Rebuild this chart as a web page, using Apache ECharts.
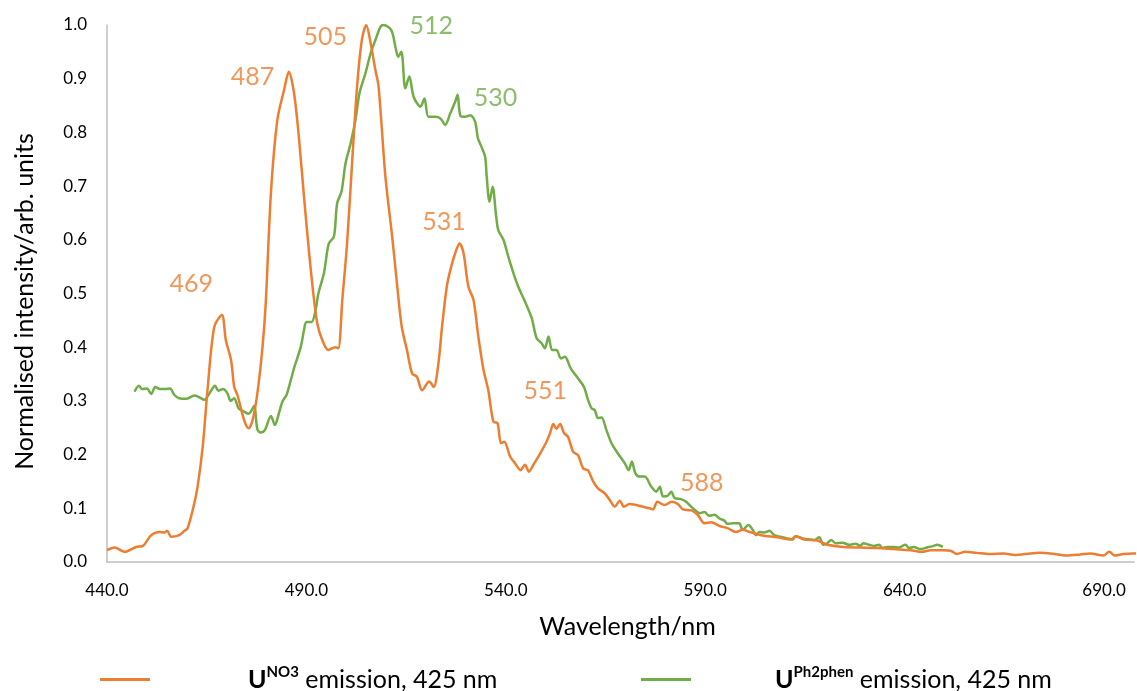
<!DOCTYPE html>
<html>
<head>
<meta charset="utf-8">
<script src="https://cdn.jsdelivr.net/npm/echarts@6/dist/echarts.min.js"></script>
<style>
  html, body { margin: 0; padding: 0; background: #ffffff; }
  #chart { width: 1137px; height: 691px; }
</style>
</head>
<body>
<div id="chart"></div>
<script>
// ---------------- DATA ----------------
const seriesNames = ['UNO3 emission, 425 nm', 'UPh2phen emission, 425 nm'];

// [wavelength (nm), normalised intensity]
const emissionNO3 = [
  [440.0,0.022],[441.9,0.027],[444.4,0.019],[447.3,0.028],[449.0,0.030],[451.1,0.050],[453.1,0.056],[454.4,0.055],[455.1,0.058],[456.1,0.047],
  [458.1,0.050],[459.4,0.058],[460.2,0.063],[461.5,0.097],[462.7,0.140],[464.0,0.215],[465.2,0.320],[466.9,0.438],[468.8,0.460],[469.8,0.413],
  [471.1,0.376],[471.9,0.326],[472.7,0.311],[474.4,0.264],[475.5,0.249],[476.5,0.264],[477.7,0.314],[479.0,0.401],[479.8,0.482],[481.1,0.687],
  [482.7,0.823],[484.4,0.879],[485.6,0.913],[486.9,0.873],[488.1,0.792],[489.4,0.680],[491.1,0.544],[492.7,0.445],[494.0,0.413],[495.5,0.395],
  [497.3,0.400],[498.0,0.398],[499.0,0.488],[500.2,0.594],[501.5,0.749],[502.7,0.885],[503.9,0.972],[505.0,1.000],[506.1,0.966],[507.3,0.916],
  [508.1,0.885],[509.8,0.718],[511.5,0.606],[512.7,0.519],[513.9,0.438],[515.2,0.395],[516.5,0.351],[517.7,0.345],[519.0,0.320],[520.8,0.336],
  [521.9,0.326],[523.1,0.370],[524.0,0.438],[525.2,0.513],[526.1,0.544],[527.3,0.575],[528.4,0.593],[529.4,0.575],[530.6,0.513],[531.9,0.488],
  [533.1,0.420],[534.4,0.358],[535.6,0.320],[536.9,0.261],[537.9,0.259],[538.8,0.221],[539.6,0.224],[541.1,0.196],[542.3,0.184],[543.7,0.171],
  [544.8,0.181],[545.8,0.168],[546.9,0.181],[548.6,0.202],[550.2,0.224],[551.1,0.240],[551.9,0.257],[552.7,0.248],[553.6,0.257],[554.6,0.240],
  [555.6,0.233],[556.9,0.205],[558.1,0.199],[559.4,0.174],[560.6,0.171],[561.9,0.150],[563.1,0.137],[564.8,0.128],[566.1,0.115],[567.3,0.103],
  [568.6,0.114],[569.6,0.103],[571.0,0.108],[572.7,0.106],[574.4,0.103],[576.1,0.100],[576.9,0.098],[578.0,0.112],[579.8,0.106],[581.6,0.112],
  [583.1,0.108],[584.4,0.098],[586.5,0.096],[588.1,0.088],[589.8,0.072],[591.5,0.074],[593.6,0.067],[595.6,0.063],[597.7,0.056],[599.4,0.060],
  [601.1,0.056],[604.0,0.050],[608.1,0.046],[611.5,0.042],[612.7,0.048],[614.8,0.042],[618.1,0.040],[620.6,0.032],[624.8,0.028],[628.9,0.027],
  [633.1,0.026],[637.3,0.024],[641.5,0.022],[644.4,0.019],[646.5,0.022],[649.8,0.022],[651.5,0.021],[653.1,0.015],[655.2,0.019],[658.1,0.017],
  [661.5,0.015],[664.8,0.016],[667.7,0.013],[671.5,0.016],[674.0,0.017],[676.5,0.016],[680.6,0.012],[684.0,0.014],[686.5,0.016],[689.8,0.012],
  [691.3,0.019],[692.7,0.012],[694.8,0.015],[697.4,0.016],[700.0,0.015]
];

const emissionPh2phen = [
  [446.9,0.317],[448.0,0.328],[448.8,0.322],[450.0,0.323],[451.1,0.313],[452.1,0.326],[453.3,0.322],[454.6,0.322],[455.8,0.323],[456.9,0.311],
  [458.1,0.305],[460.0,0.304],[461.9,0.310],[463.1,0.307],[464.4,0.302],[465.6,0.313],[467.1,0.328],[467.9,0.319],[469.1,0.322],[470.2,0.314],
  [471.0,0.300],[471.9,0.305],[473.0,0.286],[474.4,0.280],[475.5,0.276],[476.3,0.283],[476.9,0.291],[477.7,0.247],[478.5,0.241],[479.6,0.246],
  [481.1,0.272],[482.1,0.255],[483.1,0.277],[484.0,0.299],[485.0,0.311],[486.1,0.339],[486.9,0.361],[488.6,0.401],[489.4,0.432],[490.0,0.447],
  [491.3,0.447],[492.3,0.469],[493.0,0.500],[494.4,0.538],[495.6,0.593],[496.9,0.606],[497.7,0.668],[498.8,0.690],[499.8,0.742],[501.1,0.780],
  [502.3,0.823],[503.3,0.873],[504.8,0.910],[506.1,0.947],[507.3,0.972],[508.6,0.997],[509.4,1.000],[511.3,0.990],[512.3,0.960],[513.0,0.941],
  [513.8,0.950],[514.8,0.882],[515.8,0.904],[516.9,0.866],[518.6,0.848],[519.6,0.863],[520.6,0.829],[522.3,0.829],[523.6,0.826],[524.8,0.814],
  [526.1,0.836],[527.3,0.857],[527.9,0.870],[528.6,0.831],[529.8,0.829],[531.1,0.832],[532.3,0.820],[533.0,0.789],[533.9,0.773],[534.8,0.755],
  [535.2,0.718],[535.9,0.671],[536.7,0.699],[537.5,0.649],[538.1,0.618],[539.4,0.600],[540.6,0.569],[541.9,0.538],[543.1,0.513],[544.8,0.485],
  [546.5,0.454],[547.7,0.417],[549.0,0.407],[549.8,0.398],[550.7,0.420],[551.6,0.395],[552.7,0.395],[553.8,0.379],[554.8,0.382],[556.3,0.360],
  [558.1,0.342],[559.6,0.326],[560.6,0.302],[561.5,0.286],[562.3,0.283],[563.1,0.268],[564.0,0.269],[565.2,0.246],[566.5,0.221],[568.1,0.202],
  [569.8,0.184],[570.8,0.171],[571.6,0.187],[572.5,0.165],[573.6,0.159],[574.8,0.159],[576.5,0.140],[577.7,0.131],[578.6,0.140],[579.4,0.122],
  [580.5,0.123],[581.5,0.131],[582.3,0.119],[583.9,0.117],[585.2,0.112],[586.9,0.100],[588.6,0.091],[589.8,0.093],[591.0,0.086],[592.3,0.088],
  [593.6,0.081],[594.8,0.077],[595.6,0.071],[596.9,0.072],[598.5,0.072],[599.4,0.060],[600.8,0.069],[601.9,0.060],[602.7,0.050],[603.6,0.056],
  [604.8,0.055],[606.1,0.058],[607.3,0.050],[608.9,0.047],[610.6,0.044],[611.9,0.042],[612.7,0.048],[614.4,0.044],[616.1,0.042],[617.3,0.041],
  [618.6,0.046],[619.6,0.032],[620.6,0.035],[621.6,0.041],[622.7,0.035],[624.4,0.036],[626.1,0.032],[627.7,0.034],[628.9,0.030],[629.6,0.035],
  [631.1,0.032],[632.3,0.030],[633.6,0.032],[634.4,0.026],[635.6,0.028],[637.3,0.028],[638.5,0.027],[640.2,0.032],[641.1,0.026],[642.3,0.028],
  [644.0,0.024],[645.6,0.027],[647.3,0.030],[648.1,0.032],[649.6,0.028]
];

// peak annotations: [label, wavelength, intensity] (text centre in data units)
const peaksNO3 = [
  ['469', 461.1, 0.518], ['487', 476.5, 0.904], ['505', 494.7, 0.977],
  ['531', 524.5, 0.633], ['551', 549.9, 0.318], ['588', 589.1, 0.148]
];
const peaksPh2phen = [
  ['512', 521.3, 0.999], ['530', 537.4, 0.865]
];

// axis settings
const xMin = 440, xMax = 697.5, xStep = 50;
const yMin = 0, yMax = 1, yStep = 0.1;

// ---------------- CHART ----------------
const ORANGE = '#ED7D31';
const GREEN = '#70AD47';
const FONT = 'Lato, "Open Sans", sans-serif';

const chart = echarts.init(document.getElementById('chart'), null, { renderer: 'canvas' });

function legendText(name) {
  if (name === seriesNames[0]) return '{b|U}{sup|NO3}{t| emission, 425 nm}';
  return '{b|U}{sup|Ph2phen}{t| emission, 425 nm}';
}
const legendRich = {
  b: { fontFamily: FONT, fontSize: 25, fontWeight: 'bold', color: '#000' },
  sup: { fontFamily: FONT, fontSize: 15, fontWeight: 'bold', color: '#000', padding: [0, 0, 14, 0] },
  t: { fontFamily: FONT, fontSize: 25, color: '#000' }
};
function legendCfg(name, left, color, gap) {
  return {
    data: [{ name: name, icon: 'rect', itemStyle: { color: color } }],
    left: left, top: 665, padding: 0,
    itemWidth: 50, itemHeight: 3,
    formatter: legendText,
    selectedMode: false,
    textStyle: { fontFamily: FONT, fontSize: 25, color: '#000', padding: [0, 0, 0, gap], rich: legendRich }
  };
}

function peakSeries(arr, color) {
  return {
    type: 'scatter',
    data: arr.map(p => ({ name: p[0], value: [p[1], p[2]] })),
    symbolSize: 1,
    itemStyle: { color: 'rgba(0,0,0,0)' },
    silent: true,
    z: 5,
    label: {
      show: true, position: 'inside', formatter: '{b}',
      fontFamily: FONT, fontSize: 25, color: color
    }
  };
}

const option = {
  animation: false,
  backgroundColor: '#ffffff',
  grid: { left: 107, top: 25, right: 0, height: 537, containLabel: false },
  legend: [
    legendCfg(seriesNames[0], 100, ORANGE, 93),
    legendCfg(seriesNames[1], 641, GREEN, 79)
  ],
  xAxis: {
    type: 'value', min: xMin, max: xMax, interval: xStep,
    name: 'Wavelength/nm', nameLocation: 'middle', nameGap: 52,
    nameTextStyle: { fontFamily: FONT, fontSize: 25, color: '#000', padding: [0, 0, 0, 14] },
    axisLine: { show: true, lineStyle: { color: '#BFBFBF', width: 1.5 } },
    axisTick: { show: false },
    splitLine: { show: false },
    axisLabel: {
      fontFamily: FONT, fontSize: 17, color: '#000', margin: 20,
      formatter: v => (v > 695 ? '' : v.toFixed(1))
    }
  },
  yAxis: {
    type: 'value', min: yMin, max: yMax, interval: yStep,
    name: 'Normalised intensity/arb. units', nameLocation: 'middle', nameGap: 70,
    nameTextStyle: { fontFamily: FONT, fontSize: 25, color: '#000', padding: [0, 16, 0, 0] },
    axisLine: { show: true, lineStyle: { color: '#BFBFBF', width: 1.5 } },
    axisTick: { show: false },
    splitLine: { show: false },
    axisLabel: {
      fontFamily: FONT, fontSize: 17, color: '#000', margin: 20,
      formatter: v => v.toFixed(1)
    }
  },
  series: [
    {
      name: seriesNames[0], type: 'line', data: emissionNO3,
      showSymbol: false, symbol: 'none', smooth: 0.3,
      lineStyle: { color: ORANGE, width: 2.5 }, itemStyle: { color: ORANGE }, z: 3
    },
    {
      name: seriesNames[1], type: 'line', data: emissionPh2phen,
      showSymbol: false, symbol: 'none', smooth: 0.3,
      lineStyle: { color: GREEN, width: 2.5 }, itemStyle: { color: GREEN }, z: 2
    },
    peakSeries(peaksNO3, ORANGE),
    peakSeries(peaksPh2phen, GREEN)
  ]
};
chart.setOption(option);
</script>
</body>
</html>
